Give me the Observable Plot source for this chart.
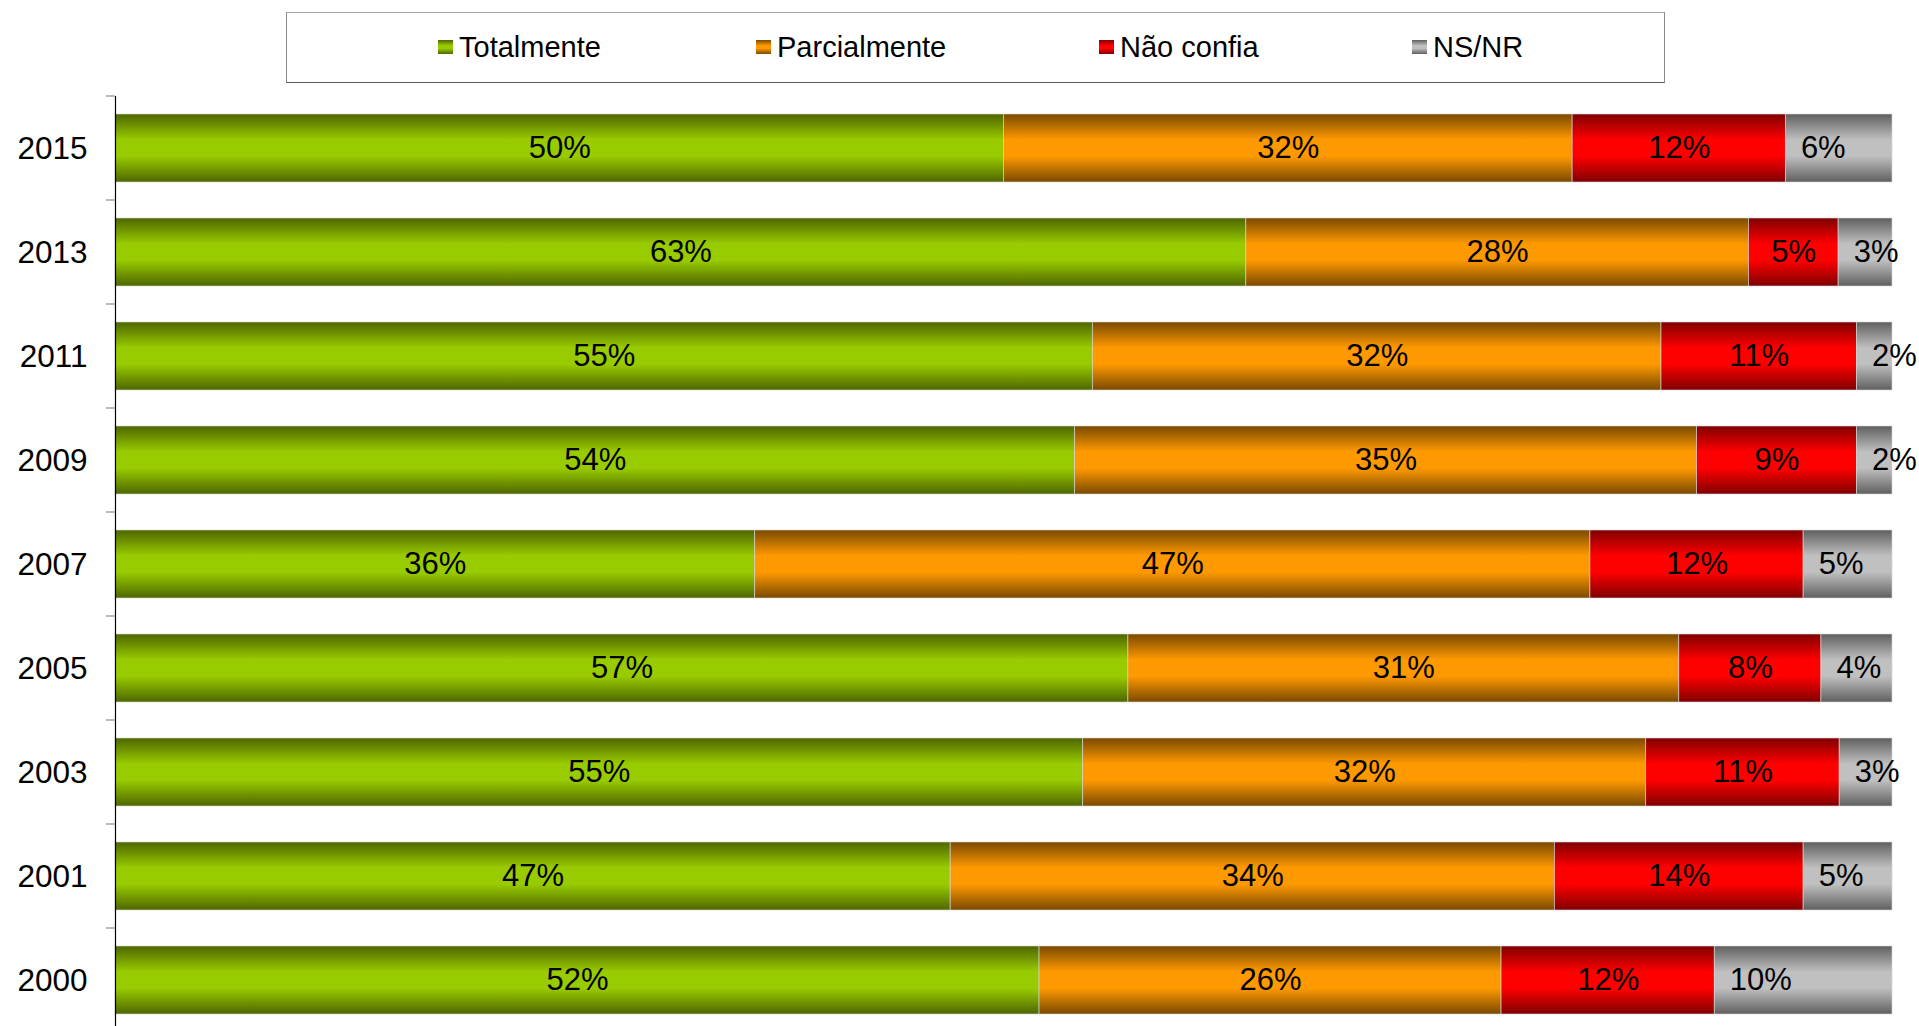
<!DOCTYPE html>
<html><head><meta charset="utf-8">
<script src="https://cdn.jsdelivr.net/npm/d3@7"></script>
<script src="https://cdn.jsdelivr.net/npm/@observablehq/plot@0.6"></script>
<style>
html,body{margin:0;padding:0;background:#fff;overflow:hidden}
body{font-family:"Liberation Sans",Arial,sans-serif;width:1919px;height:1026px}
#legend{position:relative;height:86px;width:1919px}
#legend .box{position:absolute;left:286px;top:12px;width:1379px;height:71px;border:1px solid #8a8a8a;border-top-color:#a8a8a8;border-bottom-color:#5a5a5a;box-sizing:border-box}
#legend .item{position:absolute;top:32px;height:30px;display:flex;align-items:center;font-size:29px;line-height:30px;color:#000;white-space:nowrap}
#legend .sw{width:15px;height:14px;margin-right:6px}
#chart svg{display:block}
</style>
</head><body>
<div id="legend"><div class="box"></div></div>
<div id="chart"></div>
<script>
const years = ["2015","2013","2011","2009","2007","2005","2003","2001","2000"];
const series = ["Totalmente","Parcialmente","Não confia","NS/NR"];
const totalmente   = [50,63,55,54,36,57,55,47,52];
const parcialmente = [32,28,32,35,47,31,32,34,26];
const naoConfia    = [12, 5,11, 9,12, 8,11,14,12];
const nsnr         = [ 6, 3, 2, 2, 5, 4, 3, 5,10];

const colorMid  = ["#99cc00","#ff9900","#ff0000","#c0c0c0"];
const colorEdge = ["#4d6600","#7a4a00","#800000","#5f5f5f"];
const legendLeft = [438,756,1099,1412];

const seriesValues = [totalmente, parcialmente, naoConfia, nsnr];
const data = years.flatMap((year, i) =>
  series.map((s, j) => ({year, series: s, value: seriesValues[j][i]})));

const gradIds = series.map((s, i) => "grad" + i);

const stackOpts = {x: "value", y: "year", z: "series", order: series, offset: "normalize"};

const plot = Plot.plot({
  width: 1919, height: 940,
  marginLeft: 115, marginRight: 27, marginTop: 10, marginBottom: 0,
  style: {fontFamily: "'Liberation Sans', Arial, sans-serif", fontSize: "31.5px", color: "#000", background: "transparent"},
  x: {domain: [0, 1], axis: null},
  y: {domain: years, range: [10, 946], paddingInner: 0.35, paddingOuter: 0.175, label: null, tickSize: 0, tickPadding: 28},
  color: {domain: series, range: gradIds.map(id => `url(#${id})`)},
  marks: [
    Plot.barX(data, Plot.stackX({...stackOpts, fill: "series", stroke: "#d4d4d4", strokeWidth: 0.8, strokeOpacity: 0.8})),
    Plot.text(data, Plot.stackX({...stackOpts, text: d => d.series === "NS/NR" ? null : d.value + "%", fontSize: 31, fill: "#000"})),
    Plot.text(data, Plot.stackX1({...stackOpts, text: d => d.series === "NS/NR" ? d.value + "%" : null, textAnchor: "start", dx: 15, fontSize: 31, fill: "#000"})),
    Plot.ruleX([0], {stroke: "#000", strokeWidth: 1.2})
  ]
});

// gradients
const svg = d3.select(plot);
const defs = svg.insert("defs", ":first-child");
series.forEach((s, i) => {
  const g = defs.append("linearGradient").attr("id", gradIds[i])
    .attr("x1", 0).attr("y1", 0).attr("x2", 0).attr("y2", 1);
  [[0, colorEdge[i]], [0.38, colorMid[i]], [0.62, colorMid[i]], [1, colorEdge[i]]]
    .forEach(([o, c]) => g.append("stop").attr("offset", o).attr("stop-color", c));
});

// category boundary ticks on the y axis
const ys = plot.scale("y");
const xs = plot.scale("x");
const gap = (ys.step - ys.bandwidth) / 2;
const bounds = years.map(y => ys.apply(y) - gap);
bounds.push(ys.apply(years[years.length - 1]) + ys.bandwidth + gap);
const x0 = xs.apply(0);
svg.append("g").selectAll("line").data(bounds).join("line")
  .attr("x1", x0 - 9).attr("x2", x0).attr("y1", d => d).attr("y2", d => d)
  .attr("stroke", "#8c8c8c").attr("stroke-width", 1.2);

document.getElementById("chart").appendChild(plot);

// legend
const leg = d3.select("#legend");
series.forEach((s, i) => {
  const it = leg.append("div").attr("class", "item").style("left", legendLeft[i] + "px");
  it.append("div").attr("class", "sw")
    .style("background", `linear-gradient(to bottom, ${colorEdge[i]}, ${colorMid[i]} 40%, ${colorMid[i]} 60%, ${colorEdge[i]})`);
  it.append("span").text(s);
});
</script>
</body></html>
